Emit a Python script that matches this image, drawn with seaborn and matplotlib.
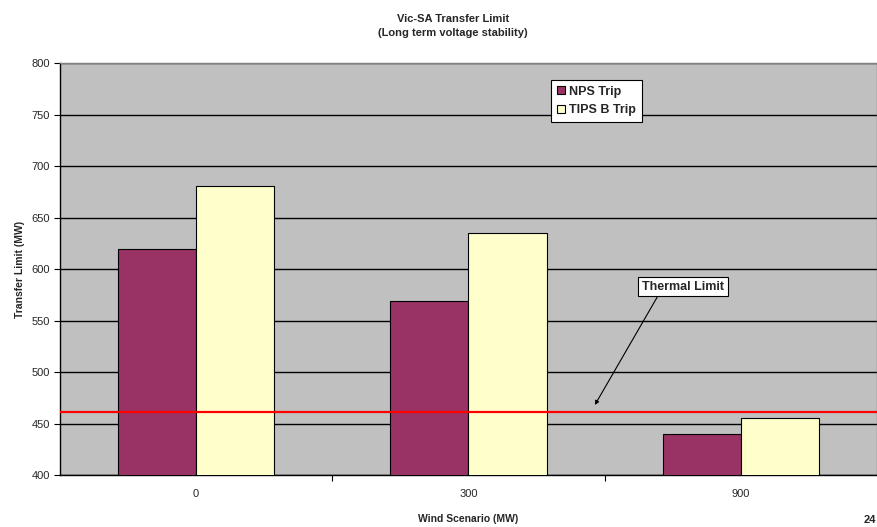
import matplotlib
matplotlib.use("Agg")
import matplotlib.pyplot as plt
import seaborn as sns
import pandas as pd

# Transfer limits per wind scenario
scenarios = ["0", "300", "900"]
nps_trip = [619, 569, 440]
tips_b_trip = [681, 635, 455]
series_names = ["NPS Trip", "TIPS B Trip"]
thermal_limit = 461
y_ticks = [400, 450, 500, 550, 600, 650, 700, 750, 800]

df = pd.DataFrame({
    "Wind Scenario (MW)": scenarios * 2,
    "Transfer Limit (MW)": nps_trip + tips_b_trip,
    "Series": [series_names[0]] * 3 + [series_names[1]] * 3,
})

sns.set_style("white")
plt.rcParams["font.family"] = ["Liberation Sans", "DejaVu Sans"]

fig = plt.figure(figsize=(8.78, 5.27), dpi=100)
ax = fig.add_axes([60 / 878, 1 - 475 / 527, 817 / 878, 412 / 527])
ax.set_facecolor("#C0C0C0")

palette = {"NPS Trip": "#993366", "TIPS B Trip": "#FFFFCC"}
sns.barplot(data=df, x="Wind Scenario (MW)", y="Transfer Limit (MW)",
            hue="Series", palette=palette, width=0.575, dodge=True,
            edgecolor="black", linewidth=0.8, saturation=1, ax=ax,
            legend=True, zorder=3)

ax.set_ylim(400, 800)
ax.set_xlim(-0.5, 2.5)
ax.set_yticks(y_ticks)
ax.yaxis.grid(True, color="black", linewidth=1.0, zorder=1)
ax.set_axisbelow(True)
ax.axhline(thermal_limit, color="#FF0000", linewidth=1.6, zorder=4)

for side in ["left", "bottom"]:
    ax.spines[side].set_color("black")
    ax.spines[side].set_linewidth(1.0)
for side in ["top", "right"]:
    ax.spines[side].set_color("#808080")
    ax.spines[side].set_linewidth(1.0)

ax.tick_params(axis="y", which="major", direction="out", length=4,
               width=0.8, color="black", labelsize=8, pad=3, left=True)
ax.tick_params(axis="x", which="major", length=0, labelsize=8, pad=10)
ax.set_xticks([0.5, 1.5], minor=True)
ax.tick_params(axis="x", which="minor", direction="out", length=4,
               width=0.8, color="black", bottom=True)

ax.set_xlabel("Wind Scenario (MW)", fontsize=7.5, fontweight="bold", labelpad=11)
ax.set_ylabel("Transfer Limit (MW)", fontsize=7.5, fontweight="bold", labelpad=5)

leg = ax.legend(loc="upper left", bbox_to_anchor=(551 / 878, 1 - 80 / 527),
                bbox_transform=fig.transFigure, frameon=True, fancybox=False,
                edgecolor="black", facecolor="white", framealpha=1,
                prop={"size": 9, "weight": "bold"}, handlelength=0.65,
                handleheight=0.65, handletextpad=0.35, labelspacing=0.55,
                borderpad=0.45, borderaxespad=0)
leg.get_frame().set_linewidth(0.8)

ax.annotate("Thermal Limit", xy=(1.464, 468),
            xytext=(1.787, 583), ha="center", va="center",
            fontsize=9, fontweight="bold",
            bbox=dict(boxstyle="square,pad=0.3", fc="white", ec="black", lw=0.8),
            arrowprops=dict(arrowstyle="-|>", color="black", lw=0.8,
                            shrinkA=0, shrinkB=0, mutation_scale=6,
                            relpos=(0.22, 0.0)),
            zorder=5)

fig.text(453 / 878, 1 - 26 / 527,
         "Vic-SA Transfer Limit\n(Long term voltage stability)",
         ha="center", va="center", fontsize=8, fontweight="bold",
         linespacing=1.5)
fig.text(876 / 878, 1 - 520 / 527, "24", ha="right", va="center",
         fontsize=8, fontweight="bold")

fig.savefig("out.png", dpi=100, facecolor="white")
